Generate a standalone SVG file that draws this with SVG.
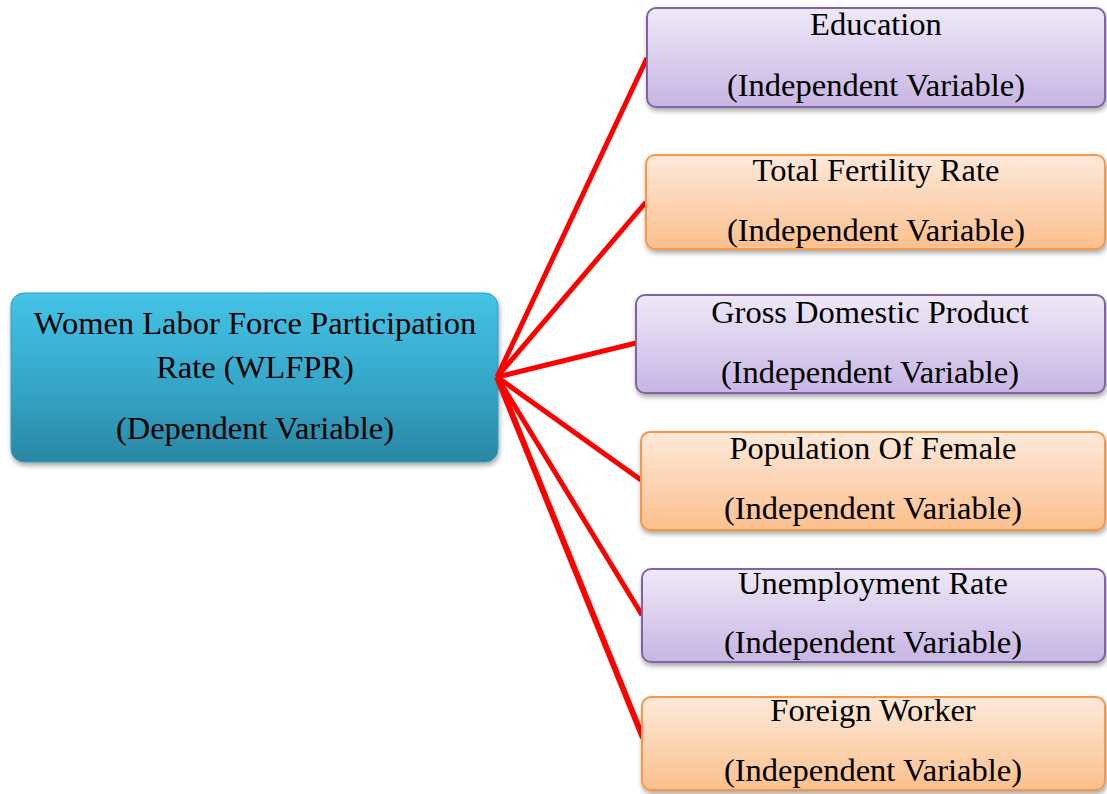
<svg xmlns="http://www.w3.org/2000/svg" width="1107" height="794" viewBox="0 0 1107 794">
<defs>
<linearGradient id="gTeal" x1="0" y1="0" x2="0" y2="1">
<stop offset="0" stop-color="#45c3e6"/>
<stop offset="0.5" stop-color="#36a9cb"/>
<stop offset="1" stop-color="#2a87a3"/>
</linearGradient>
<linearGradient id="gPurple" x1="0" y1="0" x2="0" y2="1">
<stop offset="0" stop-color="#eee9f7"/>
<stop offset="1" stop-color="#c7b5e3"/>
</linearGradient>
<linearGradient id="gOrange" x1="0" y1="0" x2="0" y2="1">
<stop offset="0" stop-color="#fde9da"/>
<stop offset="1" stop-color="#fbc08d"/>
</linearGradient>
<filter id="shadow" x="-5%" y="-10%" width="110%" height="130%">
<feDropShadow dx="1" dy="3" stdDeviation="2.5" flood-color="#000" flood-opacity="0.35"/>
</filter>
</defs>
<style>
text { font-family: "Liberation Serif", "Times New Roman", serif; font-size: 32.5px; fill: #000; text-anchor: middle; }
.purple { fill: url(#gPurple); stroke: #8064a2; stroke-width: 2; filter: url(#shadow); }
.orange { fill: url(#gOrange); stroke: #f79646; stroke-width: 2; filter: url(#shadow); }
.main { fill: url(#gTeal); stroke: #2e9cc0; stroke-width: 1; filter: url(#shadow); }
.conn line { stroke: #ff0000; stroke-width: 5; stroke-linecap: butt; }
</style>
<rect width="1107" height="794" fill="#ffffff"/>

<g id="node-wlfpr">
<rect class="main" x="11" y="293" width="487" height="169" rx="13"/>
<text x="255" y="334">Women Labor Force Participation</text>
<text x="255" y="378">Rate (WLFPR)</text>
<text x="255" y="439">(Dependent Variable)</text>
</g>

<g id="connectors" class="conn">
<line x1="497" y1="377" x2="647" y2="58"/>
<line x1="497" y1="377" x2="646" y2="202"/>
<line x1="497" y1="377" x2="636" y2="343"/>
<line x1="497" y1="377" x2="641" y2="480"/>
<line x1="497" y1="377" x2="642" y2="615"/>
<line x1="497" y1="377" x2="643" y2="738" style="stroke-width:6"/>
</g>

<g id="node-education">
<rect class="purple" x="647" y="8" width="458" height="99" rx="9"/>
<text x="876" y="35">Education</text>
<text x="876" y="96">(Independent Variable)</text>
</g>

<g id="node-tfr">
<rect class="orange" x="646" y="155" width="459" height="94" rx="9"/>
<text x="876" y="181">Total Fertility Rate</text>
<text x="876" y="241">(Independent Variable)</text>
</g>

<g id="node-gdp">
<rect class="purple" x="636" y="295" width="469" height="98" rx="9"/>
<text x="870" y="323">Gross Domestic Product</text>
<text x="870" y="383">(Independent Variable)</text>
</g>

<g id="node-population">
<rect class="orange" x="641" y="432" width="464" height="98" rx="9"/>
<text x="873" y="459">Population Of Female</text>
<text x="873" y="519">(Independent Variable)</text>
</g>

<g id="node-unemployment">
<rect class="purple" x="642" y="569" width="463" height="93" rx="9"/>
<text x="873" y="594">Unemployment Rate</text>
<text x="873" y="653">(Independent Variable)</text>
</g>

<g id="node-foreign">
<rect class="orange" x="642" y="697" width="463" height="93" rx="9"/>
<text x="873" y="721">Foreign Worker</text>
<text x="873" y="781">(Independent Variable)</text>
</g>
</svg>
